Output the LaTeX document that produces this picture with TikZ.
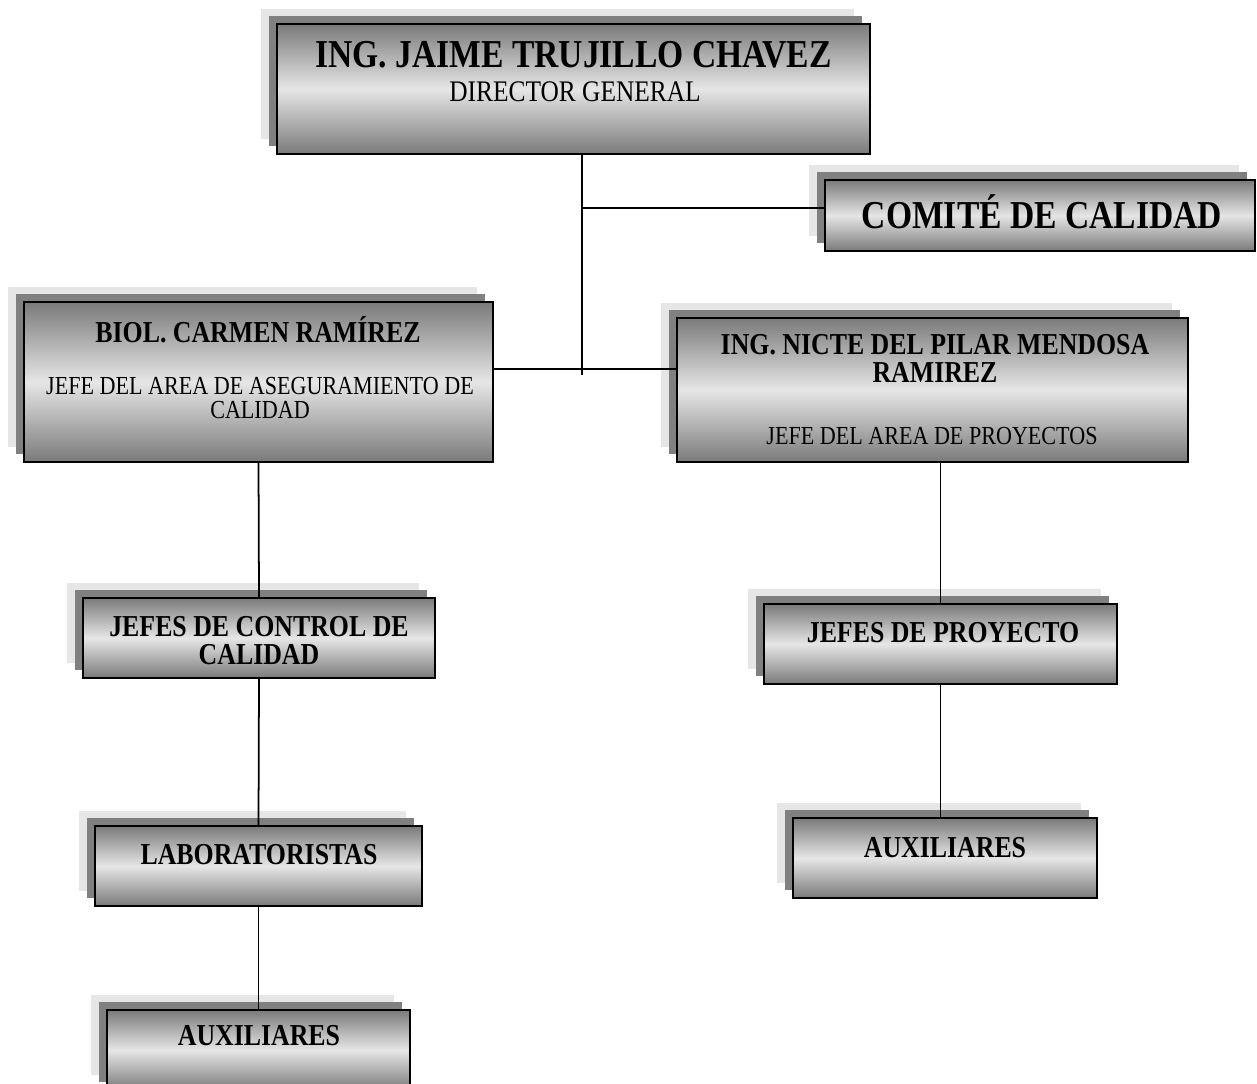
\documentclass[tikz,border=0pt]{standalone}
\usepackage{fontspec}
\setmainfont{Liberation Serif}[FakeStretch=0.85]
\usepackage{tikz}
\usetikzlibrary{shadows}
\definecolor{shadowlight}{RGB}{230,230,230}
\definecolor{shadowdark}{RGB}{128,128,128}
\definecolor{metaltop}{RGB}{122,122,122}
\definecolor{metalmid}{RGB}{230,230,230}

\begin{document}
\begin{tikzpicture}[
    orgbox/.style={draw=black, line width=1.2pt, inner sep=0pt,
        top color=metaltop, bottom color=metaltop, middle color=metalmid,
        copy shadow={shadow xshift=-0.32cm, shadow yshift=0.30cm, fill=shadowlight, draw=none},
        copy shadow={shadow xshift=-0.16cm, shadow yshift=0.16cm, fill=shadowdark, draw=none}},
    nametext/.style={align=center, font=\bfseries\fontsize{17.3}{16}\selectfont},
    roletext/.style={align=center, font=\fontsize{14.8}{14}\selectfont},
    link/.style={line width=1pt}]
    \clip (0,0) rectangle (25.14,-21.68);
    % Boxes
    \node[orgbox, minimum width=11.86cm, minimum height=2.60cm] (dir) at (11.47,-1.78) {};
    \node[orgbox, minimum width=8.60cm, minimum height=1.42cm] (comite) at (20.80,-4.31) {};
    \node[orgbox, minimum width=9.38cm, minimum height=3.20cm] (biol) at (5.17,-7.64) {};
    \node[orgbox, minimum width=10.22cm, minimum height=2.88cm] (nicte) at (18.65,-7.80) {};
    \node[orgbox, minimum width=7.04cm, minimum height=1.60cm] (jcontrol) at (5.18,-12.76) {};
    \node[orgbox, minimum width=7.06cm, minimum height=1.60cm] (jproy) at (18.81,-12.88) {};
    \node[orgbox, minimum width=6.54cm, minimum height=1.60cm] (lab) at (5.17,-17.32) {};
    \node[orgbox, minimum width=6.08cm, minimum height=1.60cm] (auxder) at (18.90,-17.16) {};
    \node[orgbox, minimum width=6.06cm, minimum height=1.60cm] (auxizq) at (5.17,-21.00) {};
    % Texts
    \node[nametext, font=\bfseries\fontsize{22.5}{24}\selectfont] (dirname) at (11.47,-1.10) {ING. JAIME TRUJILLO CHAVEZ};
    \node[roletext, font=\fontsize{17}{18}\selectfont] (dirrole) at (11.50,-1.84) {DIRECTOR GENERAL};
    \node[nametext, font=\bfseries\fontsize{22.5}{24}\selectfont] (comitename) at (20.84,-4.24) {COMITÉ DE CALIDAD};
    \node[nametext] (biolname) at (5.16,-6.60) {BIOL. CARMEN RAMÍREZ};
    \node[roletext] (biolrole) at (5.20,-7.96) {JEFE DEL AREA DE ASEGURAMIENTO DE\\CALIDAD};
    \node[nametext] (nictename) at (18.70,-7.17) {ING. NICTE DEL PILAR MENDOSA\\RAMIREZ};
    \node[roletext] (nicterole) at (18.64,-8.72) {JEFE DEL AREA DE PROYECTOS};
    \node[nametext] (jcontrolname) at (5.18,-12.81) {JEFES DE CONTROL DE\\CALIDAD};
    \node[nametext] (jproyname) at (18.86,-12.66) {JEFES DE PROYECTO};
    \node[nametext] (labname) at (5.18,-17.10) {LABORATORISTAS};
    \node[nametext] (auxdername) at (18.90,-16.96) {AUXILIARES};
    \node[nametext] (auxizqname) at (5.18,-20.72) {AUXILIARES};
    % Connectors
    \coordinate (trunk) at (11.64,-7.50);
    \coordinate (comitejoin) at (11.64,-4.16);
    \coordinate (cross) at (11.64,-7.38);
    \draw[link] (dir.south -| trunk) -- (trunk);
    \draw[link] (comitejoin) -- (comitejoin -| comite.west);
    \draw[link] (cross -| biol.east) -- (cross -| nicte.west);
    \draw[link] (biol.south) -- (jcontrol.north);
    \draw[link] (jcontrol.south) -- (lab.north);
    \draw[link] (lab.south) -- (auxizq.north);
    \draw[link] (jproy.north |- nicte.south) -- (jproy.north);
    \draw[link] (jproy.south) -- (jproy.south |- auxder.north);
\end{tikzpicture}
\end{document}
